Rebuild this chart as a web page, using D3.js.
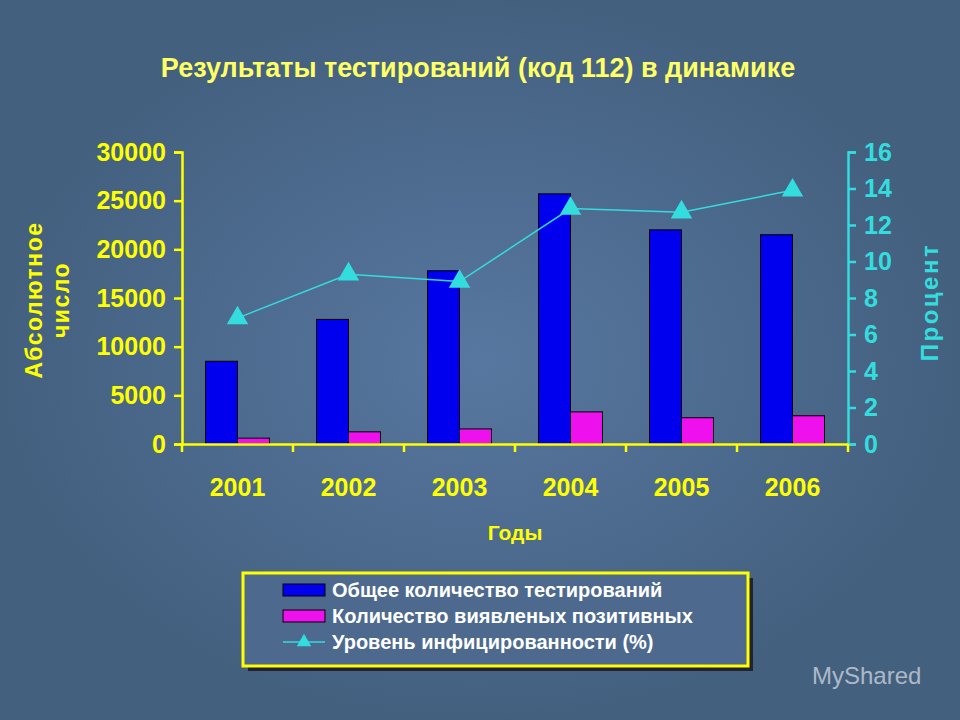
<!DOCTYPE html>
<html><head><meta charset="utf-8">
<script src="https://cdn.jsdelivr.net/npm/d3@7"></script>
<style>body{margin:0;background:#4d6a8e}svg{display:block}</style></head>
<body><svg id="c" width="960" height="720"></svg>
<script>
const years=["2001","2002","2003","2004","2005","2006"];
const totalTests=[8500,12800,17800,25700,22000,21500];
const positives=[600,1250,1550,3300,2700,2900];
const infectionRate=[6.9,9.3,8.9,12.9,12.7,13.9];
const leftTicks=[0,5000,10000,15000,20000,25000,30000];
const rightTicks=[0,2,4,6,8,10,12,14,16];

const svg=d3.select("#c");
const F="'Liberation Sans Narrow','Arial Narrow','Liberation Sans',Arial,sans-serif";
const bg=svg.append("defs").append("radialGradient").attr("id","bg");
bg.append("stop").attr("offset","0%").attr("stop-color","#5877a0");
bg.append("stop").attr("offset","100%").attr("stop-color","#43607f");
svg.append("rect").attr("width",960).attr("height",720).attr("fill","url(#bg)");

svg.append("text").attr("x",478).attr("y",77).attr("text-anchor","middle")
 .attr("font-family",F).attr("font-weight","bold").attr("font-size",27).attr("fill","#ffff66")
 .text("Результаты тестирований (код 112) в динамике");

const L=182,R=848,T=152,B=444;
const x=d3.scaleBand().domain(years).range([L,R]);
const y=d3.scaleLinear().domain([0,30000]).range([B,T]);
const y2=d3.scaleLinear().domain([0,16]).range([B,T]);
const yellow="#ffff00", cyan="#33dddd";

const bw=32;
const g=svg.append("g");
g.selectAll(".b1").data(years).join("rect").attr("x",d=>x(d)+x.bandwidth()/2-bw).attr("width",bw)
 .attr("y",(d,i)=>y(totalTests[i])).attr("height",(d,i)=>B-y(totalTests[i]))
 .attr("fill","#0000ee").attr("stroke","#000").attr("stroke-width",1);
g.selectAll(".b2").data(years).join("rect").attr("x",d=>x(d)+x.bandwidth()/2).attr("width",bw)
 .attr("y",(d,i)=>y(positives[i])).attr("height",(d,i)=>B-y(positives[i]))
 .attr("fill","#ee11ee").attr("stroke","#000").attr("stroke-width",1);

const cx=d=>x(d)+x.bandwidth()/2;
const line=d3.line().x((d,i)=>cx(years[i])).y(d=>y2(d));
g.append("path").datum(infectionRate).attr("d",line).attr("fill","none").attr("stroke",cyan).attr("stroke-width",1.5);
const tri=d3.symbol().type(d3.symbolTriangle).size(200);
g.selectAll(".m").data(infectionRate).join("path").attr("d",tri)
 .attr("transform",(d,i)=>`translate(${cx(years[i])},${y2(d)})`).attr("fill",cyan);

const la=svg.append("g").attr("transform",`translate(${L},0)`)
 .call(d3.axisLeft(y).tickValues(leftTicks).tickFormat(d3.format("d")).tickSize(8).tickPadding(8));
la.selectAll("line,path").attr("stroke",yellow).attr("stroke-width",2.5);
la.selectAll("text").attr("fill",yellow).attr("font-family",F).attr("font-weight","bold").attr("font-size",25);
const ra=svg.append("g").attr("transform",`translate(${R},0)`)
 .call(d3.axisRight(y2).tickValues(rightTicks).tickSize(8).tickPadding(8));
ra.selectAll("line,path").attr("stroke",cyan).attr("stroke-width",2.5);
ra.selectAll("text").attr("fill",cyan).attr("font-family",F).attr("font-weight","bold").attr("font-size",25);
const ba=svg.append("g").attr("transform",`translate(0,${B})`)
 .call(d3.axisBottom(x).tickSize(0).tickPadding(34));
ba.select("path").attr("stroke",yellow).attr("stroke-width",2.5);
ba.selectAll("text").attr("fill",yellow).attr("font-family",F).attr("font-weight","bold").attr("font-size",25);
svg.append("g").selectAll("line").data(years.concat(["end"])).join("line")
 .attr("x1",(d,i)=>L+i*x.bandwidth()).attr("x2",(d,i)=>L+i*x.bandwidth())
 .attr("y1",B).attr("y2",B+8).attr("stroke",yellow).attr("stroke-width",2.5);

svg.append("text").attr("x",515).attr("y",540).attr("text-anchor","middle").attr("font-family",F)
 .attr("font-weight","bold").attr("font-size",21).attr("fill",yellow).text("Годы");
const yl=svg.append("text").attr("transform","translate(42,300) rotate(-90)").attr("text-anchor","middle")
 .attr("font-family",F).attr("font-weight","bold").attr("font-size",23).attr("fill",yellow).attr("letter-spacing",1.5);
yl.append("tspan").attr("x",0).attr("dy",0).text("Абсолютное");
yl.append("tspan").attr("x",0).attr("dy",27).text("число");
svg.append("text").attr("transform","translate(938,302) rotate(-90)").attr("text-anchor","middle")
 .attr("font-family",F).attr("font-weight","bold").attr("font-size",24).attr("fill",cyan).attr("letter-spacing",2.5).text("Процент");

const lg=svg.append("g");
lg.append("rect").attr("x",248).attr("y",578).attr("width",505).attr("height",93).attr("fill","#223");
lg.append("rect").attr("x",243).attr("y",573).attr("width",505).attr("height",93).attr("fill","#4d6a8e").attr("stroke",yellow).attr("stroke-width",3);
const items=["Общее количество тестирований","Количество виявленых позитивных","Уровень инфицированности (%)"];
items.forEach((t,i)=>{
  const yy=590+i*26;
  if(i<2) lg.append("rect").attr("x",283).attr("y",yy-6).attr("width",42).attr("height",12)
    .attr("fill",i?"#ee11ee":"#0000ee").attr("stroke","#000");
  else {lg.append("line").attr("x1",283).attr("x2",325).attr("y1",yy).attr("y2",yy).attr("stroke",cyan).attr("stroke-width",1.5);
    lg.append("path").attr("d",d3.symbol().type(d3.symbolTriangle).size(90)).attr("transform",`translate(304,${yy})`).attr("fill",cyan);}
  lg.append("text").attr("x",332).attr("y",yy+7).attr("font-family",F).attr("font-weight","bold")
   .attr("font-size",20).attr("fill","#fff").text(t);
});
svg.append("text").attr("x",812).attr("y",684).attr("font-family","'Liberation Sans',Arial,sans-serif").attr("font-size",24).attr("fill","#c8d0da").attr("opacity",0.8).text("MyShared");
</script></body></html>
